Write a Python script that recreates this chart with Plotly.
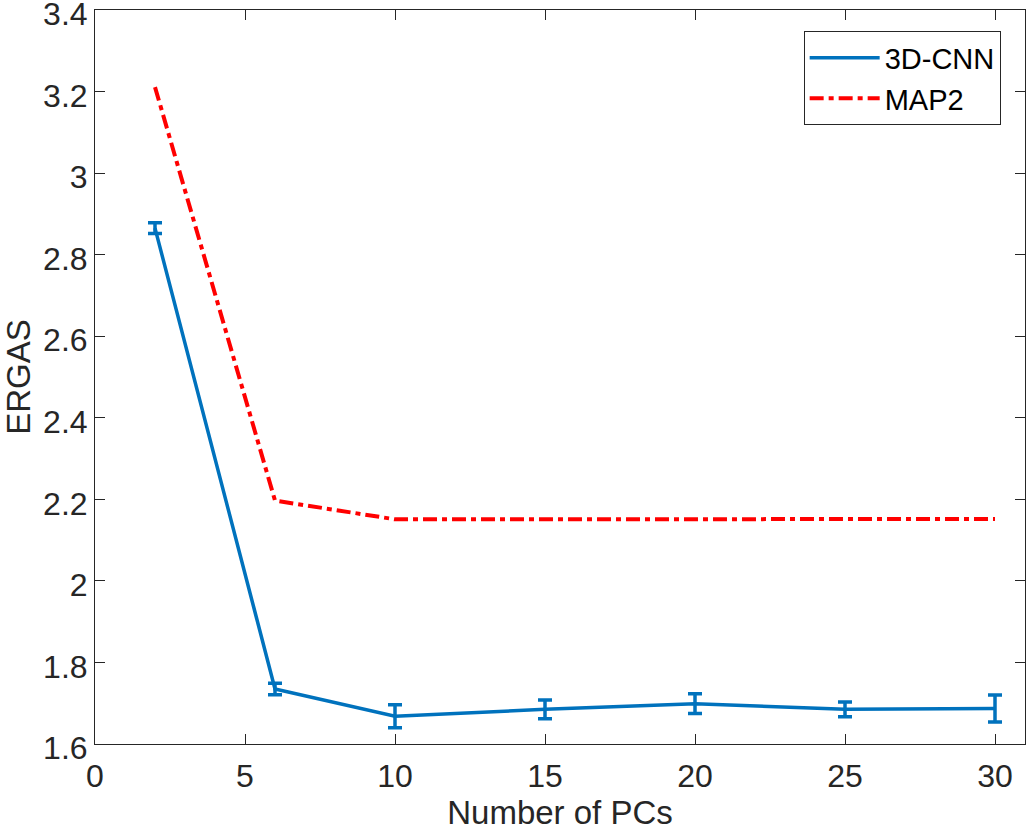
import plotly.graph_objects as go

# Data
pcs = [2, 6, 10, 15, 20, 25, 30]
cnn_ergas = [2.865, 1.735, 1.668, 1.685, 1.699, 1.685, 1.687]
cnn_err = [0.013, 0.014, 0.028, 0.023, 0.024, 0.018, 0.033]
map2_ergas = [3.211, 2.197, 2.151, 2.150, 2.151, 2.152, 2.152]

x_ticks = [0, 5, 10, 15, 20, 25, 30]
y_ticks = [1.6, 1.8, 2.0, 2.2, 2.4, 2.6, 2.8, 3.0, 3.2, 3.4]
y_ticktext = ["1.6", "1.8", "2", "2.2", "2.4", "2.6", "2.8", "3", "3.2", "3.4"]

BLUE = "#0072BD"
RED = "#FF0000"
AX = "#262626"
FONT = "Liberation Sans, Arial, Helvetica, sans-serif"

fig = go.Figure()
fig.add_trace(go.Scatter(
    x=pcs, y=cnn_ergas, name="3D-CNN", mode="lines",
    line=dict(color=BLUE, width=3.5),
    error_y=dict(type="data", array=cnn_err, visible=True,
                 color=BLUE, thickness=3.5, width=7),
))
fig.add_trace(go.Scatter(
    x=pcs, y=map2_ergas, name="MAP2", mode="lines",
    line=dict(color=RED, width=4, dash="14px,5px,5px,5px"),
))

axis_common = dict(
    showgrid=False, zeroline=False, showline=True, linecolor=AX, linewidth=1,
    mirror="ticks", ticks="inside", ticklen=10, tickwidth=1, tickcolor=AX,
    tickfont=dict(family=FONT, size=32, color=AX),
    ticklabeloverflow="allow", automargin=False,
)

fig.update_layout(
    width=1026, height=835,
    margin=dict(l=95, r=1, t=10, b=91),
    paper_bgcolor="white", plot_bgcolor="white",
    font=dict(family=FONT, color=AX),
    xaxis=dict(range=[0, 31], tickvals=x_ticks, ticklabelstandoff=4,
               title=dict(text="Number of PCs", font=dict(family=FONT, size=33, color=AX), standoff=6),
               **axis_common),
    yaxis=dict(range=[1.6, 3.4], tickvals=y_ticks, ticktext=y_ticktext,
               ticklabelshift=4,
               title=dict(text="ERGAS", font=dict(family=FONT, size=33, color=AX), standoff=10),
               **axis_common),
    legend=dict(x=0.762, y=0.971, xanchor="left", yanchor="top",
                bordercolor=AX, borderwidth=1, bgcolor="white",
                font=dict(family=FONT, size=29, color="black"),
                itemwidth=70, tracegroupgap=0),
    showlegend=True,
)

fig.write_html("out.html")
